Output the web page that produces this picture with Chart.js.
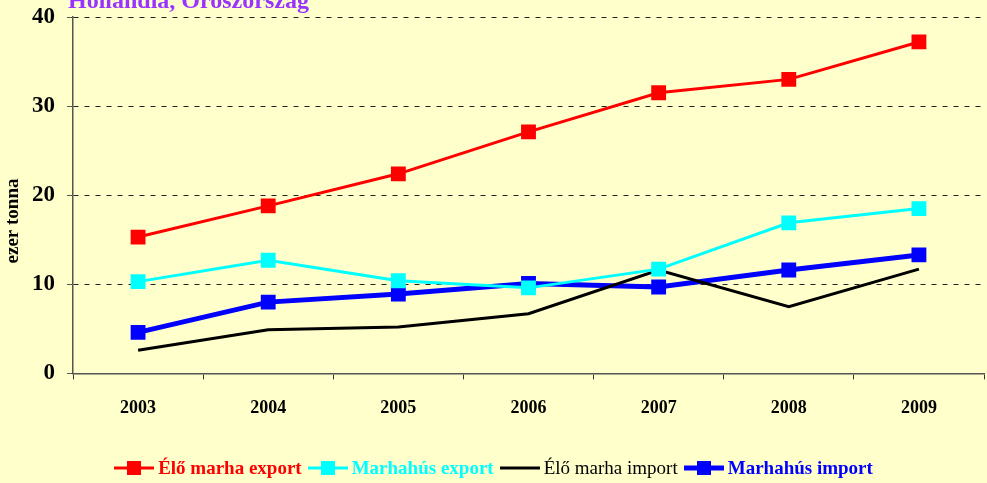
<!DOCTYPE html>
<html>
<head>
<meta charset="utf-8">
<script src="https://cdn.jsdelivr.net/npm/chart.js@4"></script>
<style>
  html, body { margin: 0; padding: 0; background: #ffffcc; }
  #wrap { position: relative; width: 987px; height: 483px; overflow: hidden; }
  #legend {
    position: absolute; left: 0; right: 0; top: 456px; height: 24px;
    display: flex; justify-content: center; align-items: center;
    font-family: "Liberation Serif", "Times New Roman", serif; font-size: 19px;
  }
  .item { display: flex; align-items: center; margin: 0 3px; }
  .mark { position: relative; width: 40px; height: 14px; margin-right: 4px; }
  .mark .ln { position: absolute; left: 0; right: 0; top: 50%; transform: translateY(-50%); }
  .mark .sq { position: absolute; left: 13px; top: 0; width: 14px; height: 14px; }
</style>
</head>
<body>
<div id="wrap">
  <canvas id="grafikon" width="987" height="483"></canvas>
  <div id="legend"></div>
</div>
<script>
// adatok
const evek = ["2003", "2004", "2005", "2006", "2007", "2008", "2009"];
const eloMarhaExport = [15.3, 18.8, 22.4, 27.1, 31.5, 33.0, 37.2];
const marhahusExport = [10.3, 12.7, 10.4, 9.6, 11.7, 16.9, 18.5];
const eloMarhaImport = [2.6, 4.9, 5.2, 6.7, 11.6, 7.5, 11.7];
const marhahusImport = [4.6, 8.0, 8.9, 10.1, 9.7, 11.6, 13.3];
const yTicks = [0, 10, 20, 30, 40];
const cim = "Hollandia, Oroszország";
const yCim = "ezer tonna";

const betu = '"Liberation Serif", "Times New Roman", serif';

const sorozatok = [
  { label: "Élő marha export", data: eloMarhaExport, color: "#ff0000", width: 3, point: true, bold: true },
  { label: "Marhahús export", data: marhahusExport, color: "#00ffff", width: 3, point: true, bold: true },
  { label: "Élő marha import", data: eloMarhaImport, color: "#000000", width: 3, point: false, bold: false },
  { label: "Marhahús import", data: marhahusImport, color: "#0000ff", width: 5, point: true, bold: true }
];

// cím a bal felső sarokban (félig kilóg) + függőleges tengelycím
const cimPlugin = {
  id: "cim",
  afterDraw(chart) {
    const ctx = chart.ctx;
    ctx.save();
    ctx.font = "bold 24px " + betu;
    ctx.fillStyle = "#9933ff";
    ctx.textBaseline = "alphabetic";
    ctx.fillText(cim, 68, 8);
    ctx.restore();

    ctx.save();
    ctx.translate(13, 221);
    ctx.rotate(-Math.PI / 2);
    ctx.font = "bold 19px " + betu;
    ctx.fillStyle = "#000";
    ctx.textAlign = "center";
    ctx.textBaseline = "middle";
    ctx.fillText(yCim, 0, 0);
    ctx.restore();
  }
};

new Chart(document.getElementById("grafikon"), {
  type: "line",
  data: {
    labels: evek,
    datasets: sorozatok.map((s) => ({
      label: s.label,
      data: s.data,
      borderColor: s.color,
      backgroundColor: s.color,
      borderWidth: s.width,
      pointStyle: "rect",
      pointRadius: s.point ? 10.5 : 0,
      pointBorderWidth: 0,
      tension: 0
    }))
  },
  options: {
    responsive: false,
    animation: false,
    layout: { autoPadding: false, padding: { top: 17, right: 3, bottom: 46, left: 0 } },
    plugins: {
      legend: { display: false },
      tooltip: { enabled: false }
    },
    scales: {
      x: {
        offset: true,
        afterFit(scale) { scale.paddingLeft = 0; scale.paddingRight = 0; },
        grid: {
          offset: true,
          drawOnChartArea: false,
          drawTicks: true,
          tickLength: 6,
          color: "#333333"
        },
        border: { color: "#555555", width: 1.5 },
        ticks: {
          color: "#000",
          padding: 18,
          font: { family: betu, size: 18, weight: "bold" }
        }
      },
      y: {
        min: 0,
        max: 40,
        afterFit(scale) {
          scale.width = 73;
          scale.paddingTop = 0;
          scale.paddingBottom = 0;
        },
        afterBuildTicks(scale) { scale.ticks = yTicks.map((v) => ({ value: v })); },
        grid: {
          color: (c) => (c.tick && c.tick.value === 0 ? "rgba(0,0,0,0)" : "#222222"),
          tickColor: "#555555",
          tickLength: 6,
          borderDash: [5, 6]
        },
        border: { color: "#555555", width: 1.5, dash: [5, 6] },
        ticks: {
          color: "#000",
          padding: 12,
          font: { family: betu, size: 23, weight: "bold" }
        }
      }
    }
  },
  plugins: [cimPlugin]
});

// jelmagyarázat
const legend = document.getElementById("legend");
sorozatok.forEach((s) => {
  const item = document.createElement("div");
  item.className = "item";
  const mark = document.createElement("span");
  mark.className = "mark";
  const ln = document.createElement("span");
  ln.className = "ln";
  ln.style.height = s.width + "px";
  ln.style.background = s.color;
  mark.appendChild(ln);
  if (s.point) {
    const sq = document.createElement("span");
    sq.className = "sq";
    sq.style.background = s.color;
    mark.appendChild(sq);
  }
  const txt = document.createElement("span");
  txt.textContent = s.label;
  txt.style.color = s.color;
  txt.style.fontWeight = s.bold ? "bold" : "normal";
  item.appendChild(mark);
  item.appendChild(txt);
  legend.appendChild(item);
});
</script>
</body>
</html>
